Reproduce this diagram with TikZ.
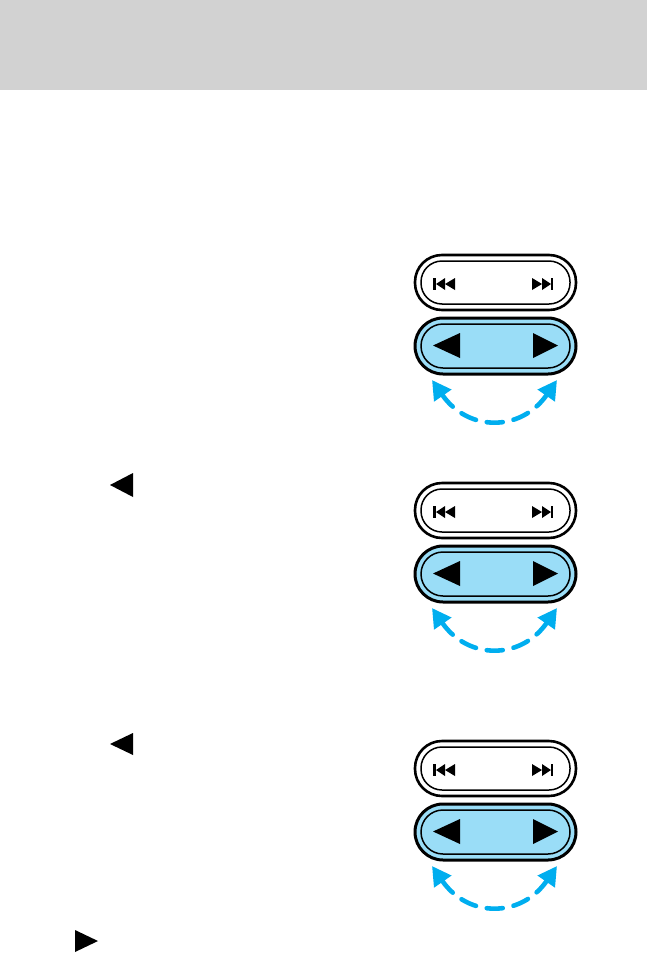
\documentclass[tikz,border=0pt]{standalone}
\usepackage{tikz}
\usepackage{xcolor}
\usetikzlibrary{arrows.meta}
\definecolor{HeaderGray}{HTML}{D2D2D2}
\definecolor{KeyBlue}{HTML}{9ADDF7}
\definecolor{SweepCyan}{HTML}{00AEEF}
\tikzset{
    keyouter/.style={draw=black, line width=1.3pt},
    keyinner/.style={draw=black, line width=0.75pt},
    glyph/.style={fill=black, draw=none},
    sweep/.style={draw=SweepCyan, line width=2.3pt, line cap=round,
        dash pattern=on 8pt off 5.5pt, {Triangle[length=9.5pt,width=10pt]}-{Triangle[length=9.5pt,width=10pt]}}
}
% one pair of seek / tune keys, #1 = top edge, #2 = name
\newcommand{\seekpair}[2]{%
    % Upper key - track seek
    \draw[keyouter, rounded corners=13.5pt] (415,#1+1) rectangle (576,#1+56);
    \draw[keyinner, rounded corners=10.5pt] (421,#1+7) rectangle (570,#1+50);
    \fill[glyph] (433,#1+24) rectangle (435.5,#1+36);
    \fill[glyph] (445,#1+24) -- (436,#1+30) -- (445,#1+36) -- cycle;
    \fill[glyph] (455,#1+24) -- (445,#1+30) -- (455,#1+36) -- cycle;
    \fill[glyph] (532,#1+24) -- (542,#1+30) -- (532,#1+36) -- cycle;
    \fill[glyph] (542,#1+24) -- (551,#1+30) -- (542,#1+36) -- cycle;
    \fill[glyph] (550.5,#1+24) rectangle (553,#1+36);
    % Lower key - tune
    \draw[keyouter, line width=1.5pt, fill=KeyBlue, rounded corners=14pt] (415,#1+64) rectangle (576,#1+120);
    \draw[keyinner, rounded corners=11pt] (421,#1+70) rectangle (570,#1+114);
    \fill[glyph] (460,#1+79) -- (433,#1+91.5) -- (460,#1+104) -- cycle;
    \fill[glyph] (533,#1+79) -- (558,#1+91.5) -- (533,#1+104) -- cycle;
    % Sweep arrow
    \coordinate (#2L) at (432,#1+126);
    \coordinate (#2R) at (557,#1+126);
    \draw[sweep] (#2L) .. controls (468,#1+178) and (521,#1+178) .. (#2R);
}

\begin{document}
\begin{tikzpicture}[x=0.5pt, y=-0.5pt]
    \useasboundingbox (0,0) rectangle (647,953);

    % Header band
    \fill[HeaderGray] (0,0) rectangle (647,90);

    % Key pairs
    \seekpair{254}{first}
    \seekpair{482}{second}
    \seekpair{740}{third}

    % Inline arrow glyphs of the text column
    \fill[glyph] (133,473) -- (110,485) -- (133,497) -- cycle;
    \fill[glyph] (133,733) -- (110,744) -- (133,755) -- cycle;
    \fill[glyph] (75,930) -- (98,941) -- (75,952) -- cycle;

\end{tikzpicture}
\end{document}
